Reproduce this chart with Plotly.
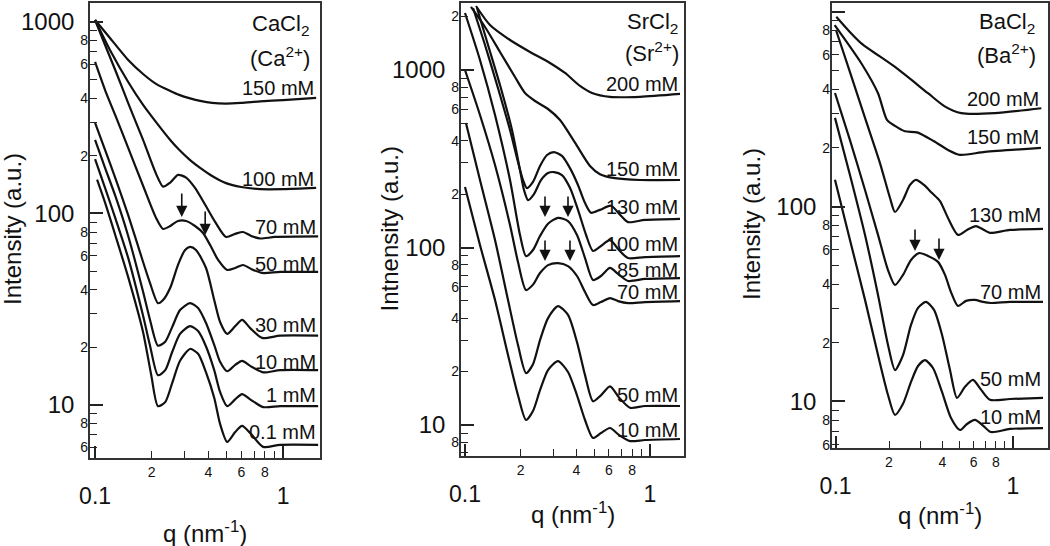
import math
import plotly.graph_objects as go

# ---------------- data (q in nm^-1, intensity in a.u.) ----------------
# CaCl2
ca_q_150 = [0.100, 0.120, 0.150, 0.180, 0.211, 0.251, 0.280, 0.320, 0.362, 0.419, 0.497, 0.598, 0.755, 1.000, 1.498]
ca_i_150 = [1024, 825, 633, 535, 475, 436, 416, 399, 387, 378, 375, 378, 385, 391, 401]
ca_q_100 = [0.100, 0.120, 0.150, 0.180, 0.211, 0.251, 0.280, 0.320, 0.362, 0.419, 0.497, 0.598, 0.755, 1.000, 1.498]
ca_i_100 = [1024, 714, 486, 369, 300, 242, 215, 190, 173, 157, 144, 137.5, 134, 134, 136]
ca_q_70 = [0.100, 0.113, 0.128, 0.150, 0.180, 0.211, 0.230, 0.251, 0.276, 0.305, 0.340, 0.385, 0.435, 0.497, 0.556, 0.612, 0.676, 0.755, 0.907, 1.535]
ca_i_70 = [1024, 758, 561, 377, 242, 161, 138, 145, 159, 154, 136, 111, 90.3, 75.4, 78.2, 80.0, 76.3, 74.0, 75.4, 75.9]
ca_q_50 = [0.100, 0.113, 0.128, 0.150, 0.180, 0.211, 0.230, 0.251, 0.276, 0.305, 0.340, 0.375, 0.409, 0.451, 0.504, 0.556, 0.612, 0.676, 0.773, 0.964, 1.535]
ca_i_50 = [618, 441, 326, 220, 139.5, 94.8, 83.0, 86.0, 91.4, 91.4, 86.0, 79.1, 68.4, 57.2, 50.7, 51.9, 53.8, 51.3, 48.9, 49.5, 49.5]
ca_q_30 = [0.100, 0.113, 0.128, 0.150, 0.180, 0.196, 0.216, 0.230, 0.251, 0.276, 0.301, 0.320, 0.344, 0.389, 0.430, 0.462, 0.504, 0.556, 0.605, 0.668, 0.773, 0.964, 1.535]
ca_i_30 = [297, 215, 153.6, 98.0, 55.8, 43.3, 34.0, 35.3, 40.9, 53.9, 64.5, 66.9, 64.5, 51.9, 35.3, 27.1, 23.5, 25.8, 27.8, 25.2, 22.4, 23.0, 23.0]
ca_q_10 = [0.100, 0.113, 0.128, 0.150, 0.180, 0.196, 0.216, 0.236, 0.257, 0.283, 0.320, 0.353, 0.389, 0.430, 0.462, 0.504, 0.556, 0.605, 0.668, 0.783, 0.964, 1.535]
ca_i_10 = [242, 173, 123.8, 76.3, 39.0, 27.8, 20.4, 21.4, 25.5, 31.3, 34.0, 32.1, 26.8, 20.6, 16.8, 15.0, 16.2, 17.0, 16.0, 14.8, 15.2, 15.2]
ca_q_1 = [0.100, 0.113, 0.128, 0.150, 0.180, 0.196, 0.216, 0.236, 0.257, 0.283, 0.320, 0.353, 0.389, 0.430, 0.462, 0.504, 0.556, 0.605, 0.668, 0.783, 0.964, 1.535]
ca_i_1 = [192, 136, 94.8, 58.6, 29.2, 20.4, 14.3, 15.2, 18.9, 23.5, 25.8, 24.3, 20.2, 15.2, 11.7, 9.86, 10.7, 11.4, 10.7, 9.75, 9.86, 9.86]
ca_q_01 = [0.1025, 0.113, 0.128, 0.150, 0.180, 0.199, 0.216, 0.236, 0.257, 0.283, 0.320, 0.353, 0.389, 0.430, 0.462, 0.504, 0.556, 0.605, 0.668, 0.783, 0.964, 1.535]
ca_i_01 = [150, 113.8, 77.2, 46.5, 24.0, 14.3, 9.86, 10.35, 13.0, 17.0, 19.6, 18.5, 14.8, 10.9, 7.96, 6.41, 7.22, 7.77, 7.14, 6.04, 6.19, 6.19]
ca_labels = ["150 mM", "100 mM", "70 mM", "50 mM", "30 mM", "10 mM", "1 mM", "0.1 mM"]
ca_arrow_q = [0.289, 0.385]
ca_arrow_i = [95.9, 77.2]

# SrCl2
sr_q_200 = [0.1147, 0.1365, 0.1751, 0.2246, 0.2880, 0.3472, 0.4183, 0.4858, 0.6078, 0.8830, 1.453]
sr_i_200 = [2294, 1793, 1476, 1264, 1096, 962, 813, 743, 706, 706, 733]
sr_q_150 = [0.1077, 0.1283, 0.1546, 0.1863, 0.2111, 0.2391, 0.2810, 0.3263, 0.3932, 0.4739, 0.5366, 0.6469, 0.8830, 1.453]
sr_i_150 = [2265, 1747, 1264, 913, 742, 669, 603, 523, 390, 288, 259, 246, 240, 240]
sr_q_130 = [0.1105, 0.1283, 0.1507, 0.1751, 0.1934, 0.2059, 0.2163, 0.2331, 0.2544, 0.2775, 0.3027, 0.3343, 0.3694, 0.4081, 0.4455, 0.4799, 0.5366, 0.6153, 0.6884, 0.7606, 0.9397, 1.453]
sr_i_130 = [2236, 1383, 792, 459, 303, 240, 216, 234, 288, 332, 345, 328, 280, 225, 178, 157, 163, 172, 153, 139, 143, 145]
sr_q_100 = [0.1161, 0.1332, 0.1546, 0.1795, 0.1983, 0.2084, 0.2191, 0.2360, 0.2575, 0.2810, 0.3027, 0.3343, 0.3694, 0.4081, 0.4509, 0.4920, 0.5432, 0.6078, 0.6799, 0.7606, 0.9397, 1.453]
sr_i_100 = [2236, 1383, 823, 459, 273, 211, 185, 200, 240, 263, 266, 256, 217, 163, 118, 95.6, 102, 110, 96.8, 87.2, 88.3, 89.4]
sr_q_85 = [0.1000, 0.1205, 0.1453, 0.1751, 0.1983, 0.2137, 0.2331, 0.2544, 0.2810, 0.3181, 0.3604, 0.4031, 0.4455, 0.4920, 0.5432, 0.6078, 0.6714, 0.7606, 0.9397, 1.453]
sr_i_85 = [2095, 1139, 558, 240, 117.6, 89.4, 96.8, 116, 136, 147, 141, 117.6, 87.2, 65.6, 69.1, 76.7, 71.0, 64.8, 66.5, 67.3]
sr_q_70 = [0.1000, 0.1205, 0.1453, 0.1751, 0.1934, 0.2137, 0.2331, 0.2544, 0.2810, 0.3181, 0.3604, 0.4031, 0.4455, 0.4920, 0.5432, 0.6078, 0.6714, 0.7606, 0.9397, 1.453]
sr_i_70 = [1000, 558, 291.5, 133.9, 82.8, 57.6, 61.8, 71.8, 79.6, 81.7, 78.6, 69.1, 56.1, 47.4, 49.3, 51.9, 49.9, 48.6, 49.3, 49.9]
sr_q_50 = [0.1012, 0.1205, 0.1453, 0.1708, 0.1934, 0.2137, 0.2331, 0.2544, 0.2810, 0.3181, 0.3604, 0.4031, 0.4455, 0.4920, 0.5432, 0.6078, 0.6799, 0.7798, 0.9397, 1.453]
sr_i_50 = [503, 240, 110.2, 50.6, 28.2, 19.6, 22.0, 30.1, 40.0, 46.8, 41.7, 29.3, 19.1, 13.6, 14.7, 16.5, 14.3, 12.5, 12.8, 12.8]
sr_q_10 = [0.1000, 0.1205, 0.1453, 0.1708, 0.1934, 0.2137, 0.2331, 0.2544, 0.2810, 0.3181, 0.3604, 0.4031, 0.4455, 0.4920, 0.5432, 0.6078, 0.6799, 0.7798, 0.9397, 1.453]
sr_i_10 = [219.4, 103.3, 50.6, 24.8, 14.7, 10.67, 12.0, 15.7, 20.4, 22.9, 19.9, 14.7, 10.67, 8.45, 9.01, 9.62, 8.78, 8.12, 8.23, 8.34]
sr_labels = ["200 mM", "150 mM", "130 mM", "100 mM", "85 mM", "70 mM", "50 mM", "10 mM"]
sr_arrow_q = [0.2707, 0.3604, 0.2707, 0.3694]
sr_arrow_i = [148.7, 148.7, 83.9, 83.9]

# BaCl2
ba_q_200 = [0.1009, 0.1175, 0.1396, 0.2153, 0.3318, 0.4121, 0.5113, 0.7884, 1.444]
ba_i_200 = [940, 804, 687, 521, 381, 326, 301, 301, 319]
ba_q_150 = [0.0988, 0.1396, 0.1734, 0.1949, 0.2162, 0.2461, 0.2876, 0.3587, 0.4301, 0.5027, 0.6953, 1.438]
ba_i_150 = [852, 543, 381, 278, 259, 243, 240, 216, 195, 184, 190.5, 199.7]
ba_q_130 = [0.1005, 0.1205, 0.1465, 0.1779, 0.2026, 0.2162, 0.2399, 0.2627, 0.2840, 0.3150, 0.3495, 0.3877, 0.4301, 0.4898, 0.5505, 0.6184, 0.6863, 0.7420, 0.9618, 1.476]
ba_i_130 = [804, 489, 284.7, 167, 110.6, 93.7, 108, 129, 137, 129, 117.2, 106.7, 87.3, 71.5, 75.8, 79.4, 75.8, 73.2, 75.8, 76.7]
ba_q_70 = [0.0992, 0.1205, 0.1465, 0.1734, 0.1974, 0.2162, 0.2399, 0.2661, 0.2953, 0.3318, 0.3778, 0.4137, 0.4472, 0.4898, 0.5433, 0.6105, 0.6774, 0.7516, 0.9618, 1.476]
ba_i_70 = [382, 219, 121.5, 71.5, 47.2, 39.6, 44.6, 53.2, 57.7, 55.8, 52.0, 44.6, 36.4, 30.9, 32.8, 33.2, 32.4, 32.0, 32.4, 32.4]
ba_q_50 = [0.0992, 0.1205, 0.1465, 0.1734, 0.1974, 0.2162, 0.2399, 0.2661, 0.2915, 0.3233, 0.3587, 0.3979, 0.4414, 0.4834, 0.5364, 0.5948, 0.6601, 0.7420, 0.9618, 1.476]
ba_i_50 = [284.7, 145.2, 71.5, 35.2, 19.5, 14.5, 17.3, 24.7, 30.2, 32.4, 29.5, 22.0, 14.5, 10.44, 11.9, 12.9, 11.5, 10.2, 10.3, 10.44]
ba_q_10 = [0.0992, 0.1205, 0.1465, 0.1734, 0.1974, 0.2162, 0.2399, 0.2661, 0.2915, 0.3191, 0.3540, 0.3979, 0.4472, 0.5027, 0.5505, 0.6105, 0.6774, 0.7516, 0.9618, 1.476]
ba_i_10 = [137, 67.3, 33.2, 17.3, 10.8, 8.53, 9.73, 12.6, 15.2, 16.3, 14.85, 11.2, 8.23, 7.14, 7.67, 8.04, 7.53, 6.97, 7.23, 7.31]
ba_labels = ["200 mM", "150 mM", "130 mM", "70 mM", "50 mM", "10 mM"]
ba_arrow_q = [0.2803, 0.3827]
ba_arrow_i = [59.1, 53.2]

x_major = [0.1, 1]
x_major_text = ["0.1", "1"]
y_major = [10, 100, 1000]
y_major_text = ["10", "100", "1000"]
x_minor = [0.2, 0.3, 0.4, 0.5, 0.6, 0.7, 0.8, 0.9]
x_minor_labeled = [0.2, 0.4, 0.6, 0.8]
x_minor_text = ["2", "4", "6", "8"]

# ---------------- layout settings ----------------
W, H = 1050, 546
FONT = "Liberation Sans, Arial, sans-serif"
INK = "#111111"


def px(x):
    return x / W


def py(y):
    return 1 - y / H


def axkey(a):
    base = "xaxis" if a[0] == "x" else "yaxis"
    return base + a[1:]


panels = [
    dict(curves=[(ca_q_150, ca_i_150), (ca_q_100, ca_i_100), (ca_q_70, ca_i_70), (ca_q_50, ca_i_50),
                 (ca_q_30, ca_i_30), (ca_q_10, ca_i_10), (ca_q_1, ca_i_1), (ca_q_01, ca_i_01)],
         labels=ca_labels, lab_shift=[-3.5, -4, -3.5, -5, -2, -5, -1.5, 0],
         arrows=(ca_arrow_q, ca_arrow_i), arrow_len=25,
         box=(90, 320, 3, 458), xr=(-1.027, 0.196), yr=(0.723, 3.099),
         salt="CaCl<sub>2</sub>", ion="(Ca<sup>2+</sup>)", title_r=311, salt_top=9, ion_bot=73,
         ytitle="Intensity (a.u.)", ytitle_x=12.5, ytitle_y=229.5, xtitle_y=532),
    dict(curves=[(sr_q_200, sr_i_200), (sr_q_150, sr_i_150), (sr_q_130, sr_i_130), (sr_q_100, sr_i_100),
                 (sr_q_85, sr_i_85), (sr_q_70, sr_i_70), (sr_q_50, sr_i_50), (sr_q_10, sr_i_10)],
         labels=sr_labels, lab_shift=[-3, -2, -1, -1, -5, -4, -2, -4],
         arrows=(sr_arrow_q, sr_arrow_i), arrow_len=22,
         box=(461, 684, 3, 456), xr=(-1.0216, 0.1838), yr=(0.8254, 3.3775),
         salt="SrCl<sub>2</sub>", ion="(Sr<sup>2+</sup>)", title_r=680, salt_top=7, ion_bot=68,
         ytitle="Intnensity (a.u.)", ytitle_x=389, ytitle_y=229.5, xtitle_y=513),
    dict(curves=[(ba_q_200, ba_i_200), (ba_q_150, ba_i_150), (ba_q_130, ba_i_130),
                 (ba_q_70, ba_i_70), (ba_q_50, ba_i_50), (ba_q_10, ba_i_10)],
         labels=ba_labels, lab_shift=[-4, -2, 1, -3, 6, -2],
         arrows=(ba_arrow_q, ba_arrow_i), arrow_len=23,
         box=(832, 1048, 3, 448), xr=(-1.0203, 0.1973), yr=(0.7615, 3.0436),
         salt="BaCl<sub>2</sub>", ion="(Ba<sup>2+</sup>)", title_r=1037, salt_top=7, ion_bot=70,
         ytitle="Intensity (a.u.)", ytitle_x=751, ytitle_y=224, xtitle_y=514),
]

fig = go.Figure()
layout = dict(template="none", width=W, height=H, margin=dict(l=0, r=0, t=0, b=0, pad=0),
              autosize=False, paper_bgcolor="white", plot_bgcolor="white", showlegend=False,
              font=dict(family=FONT, color=INK))
annotations = []

for i, p in enumerate(panels):
    n = i + 1
    xa, ya = ("x" if n == 1 else f"x{n}"), ("y" if n == 1 else f"y{n}")
    xo, yo = f"x{n + 3}", f"y{n + 3}"
    x0, x1, y0, y1 = p["box"]
    xdom = [px(x0), px(x1)]
    ydom = [py(y1), py(y0)]

    lo, hi = 10 ** p["yr"][0], 10 ** p["yr"][1]
    yminor, ylab, ylab_text = [], [], []
    for d in [1, 10, 100, 1000]:
        for m in range(2, 10):
            v = m * d
            if lo <= v <= hi:
                yminor.append(v)
                if m % 2 == 0:
                    ylab.append(v)
                    ylab_text.append(str(m))

    common = dict(type="log", showgrid=False, zeroline=False, automargin=False)
    layout[axkey(xa)] = dict(common, domain=xdom, range=list(p["xr"]), anchor=ya,
                             tickmode="array", tickvals=x_major, ticktext=x_major_text,
                             ticks="inside", ticklen=12, tickwidth=1.5, tickcolor="#222",
                             minor=dict(tickmode="array", tickvals=x_minor, ticks="inside", ticklen=7,
                                        tickwidth=1.3, tickcolor="#222", showgrid=False),
                             showline=True, linecolor="#333", linewidth=1.6, mirror=True,
                             ticklabelstandoff=17, tickfont=dict(size=23, family=FONT, color=INK))
    layout[axkey(ya)] = dict(common, domain=ydom, range=list(p["yr"]), anchor=xa,
                             tickmode="array", tickvals=y_major, ticktext=y_major_text,
                             ticks="inside", ticklen=13, tickwidth=1.5, tickcolor="#222",
                             minor=dict(tickmode="array", tickvals=yminor, ticks="inside", ticklen=7,
                                        tickwidth=1.3, tickcolor="#222", showgrid=False),
                             showline=True, linecolor="#333", linewidth=1.6, mirror=True,
                             ticklabelstandoff=9, tickfont=dict(size=24, family=FONT, color=INK))
    layout[axkey(xo)] = dict(common, overlaying=xa, anchor=ya, side="bottom", range=list(p["xr"]),
                             tickmode="array", tickvals=x_minor_labeled, ticktext=x_minor_text,
                             ticks="", showline=False, ticklabelstandoff=4,
                             tickfont=dict(size=14, family=FONT, color=INK))
    layout[axkey(yo)] = dict(common, overlaying=ya, anchor=xa, side="left", range=list(p["yr"]),
                             tickmode="array", tickvals=ylab, ticktext=ylab_text,
                             ticks="", showline=False, ticklabelstandoff=1,
                             tickfont=dict(size=14, family=FONT, color=INK))
    fig.add_trace(go.Scatter(x=[], y=[], xaxis=xo, yaxis=ya, hoverinfo="skip"))
    fig.add_trace(go.Scatter(x=[], y=[], xaxis=xa, yaxis=yo, hoverinfo="skip"))

    for (q, inten), lab, sh in zip(p["curves"], p["labels"], p["lab_shift"]):
        fig.add_trace(go.Scatter(x=q, y=inten, mode="lines", xaxis=xa, yaxis=ya, name=lab,
                                 line=dict(color=INK, width=2.2, shape="spline", smoothing=0.7)))
        annotations.append(dict(x=math.log10(q[-1]), y=math.log10(inten[-1]), xref=xa, yref=ya,
                                text=lab, showarrow=False, xanchor="right", yanchor="bottom",
                                yshift=sh, font=dict(size=20, family=FONT, color=INK)))

    for aq, ai in zip(*p["arrows"]):
        annotations.append(dict(x=math.log10(aq), y=math.log10(ai), xref=xa, yref=ya, text="",
                                showarrow=True, ax=0, ay=-p["arrow_len"], arrowhead=2, arrowsize=1.4,
                                arrowwidth=1.6, arrowcolor=INK))

    annotations.append(dict(x=px(p["title_r"]), y=py(p["salt_top"]), xref="paper", yref="paper",
                            text=p["salt"], showarrow=False, xanchor="right", yanchor="top",
                            font=dict(size=22, family=FONT, color=INK)))
    annotations.append(dict(x=px(p["title_r"] + 1), y=py(p["ion_bot"]), xref="paper", yref="paper",
                            text=p["ion"], showarrow=False, xanchor="right", yanchor="bottom",
                            font=dict(size=22, family=FONT, color=INK)))
    annotations.append(dict(x=px(p["ytitle_x"]), y=py(p["ytitle_y"]), xref="paper", yref="paper",
                            text=p["ytitle"], showarrow=False, textangle=-90,
                            xanchor="center", yanchor="middle",
                            font=dict(size=24, family=FONT, color=INK)))
    annotations.append(dict(x=px((x0 + x1) / 2), y=py(p["xtitle_y"]), xref="paper", yref="paper",
                            text="q (nm<sup>-1</sup>)", showarrow=False,
                            xanchor="center", yanchor="middle",
                            font=dict(size=24, family=FONT, color=INK)))

layout["annotations"] = annotations
fig.update_layout(**layout)
fig.write_html("out.html", config={"displayModeBar": False},
               post_script="document.body.style.margin='0';")
